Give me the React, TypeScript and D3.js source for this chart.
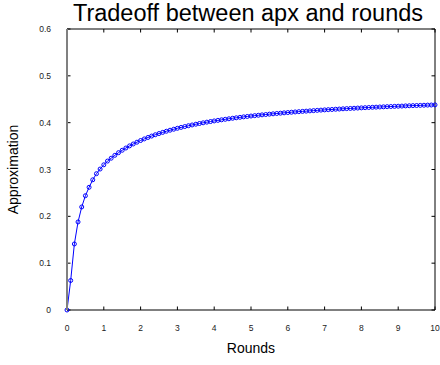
import React from "react";
import * as d3 from "d3";

const roundsX: number[] = Array.from({ length: 101 }, (_, i) => +(i * 0.1).toFixed(1));

const approxY: number[] = [
  0, 0.063, 0.141, 0.188, 0.22, 0.244, 0.262, 0.278, 0.291, 0.301, 0.31,
  0.318, 0.3241, 0.3303, 0.3359, 0.3411, 0.3459, 0.3504, 0.3545, 0.3583, 0.3619,
  0.3653, 0.3684, 0.3714, 0.3742, 0.3768, 0.3793, 0.3817, 0.3839, 0.386, 0.388,
  0.3899, 0.3917, 0.3935, 0.3951, 0.3967, 0.3982, 0.3997, 0.4011, 0.4024, 0.4037,
  0.4049, 0.4061, 0.4072, 0.4083, 0.4094, 0.4104, 0.4114, 0.4124, 0.4133, 0.4142,
  0.415, 0.4158, 0.4167, 0.4174, 0.4182, 0.4189, 0.4196, 0.4203, 0.421, 0.4216,
  0.4223, 0.4229, 0.4235, 0.4241, 0.4246, 0.4252, 0.4257, 0.4263, 0.4268, 0.4273,
  0.4278, 0.4282, 0.4287, 0.4291, 0.4296, 0.43, 0.4304, 0.4308, 0.4312, 0.4316,
  0.432, 0.4324, 0.4328, 0.4331, 0.4335, 0.4338, 0.4342, 0.4345, 0.4348, 0.4351,
  0.4354, 0.4358, 0.4361, 0.4364, 0.4366, 0.4369, 0.4372, 0.4375, 0.4377, 0.438,
];

const xTicks: number[] = [0, 1, 2, 3, 4, 5, 6, 7, 8, 9, 10];
const yTicks: number[] = [0, 0.1, 0.2, 0.3, 0.4, 0.5, 0.6];

const titleText = "Tradeoff between apx and rounds";
const xLabel = "Rounds";
const yLabel = "Approximation";

export default function App() {
  const W = 440;
  const H = 365;
  const left = 67;
  const right = 435;
  const top = 29;
  const bottom = 310;
  const x = d3.scaleLinear().domain([0, 10]).range([left, right]);
  const y = d3.scaleLinear().domain([0, 0.6]).range([bottom, top]);
  const pts = roundsX.map((v, i) => [v, approxY[i]] as [number, number]);
  const line = d3
    .line<[number, number]>()
    .x((d) => x(d[0]))
    .y((d) => y(d[1]));
  const font = "'Liberation Sans', Arial, sans-serif";
  const tl = 3.5;
  return (
    <svg
      width={W}
      height={H}
      style={{ position: "absolute", left: 0, top: 0 }}
      fontFamily={font}
    >
      <rect x={0} y={0} width={W} height={H} fill="#fff" />
      <text x={248} y={21} fontSize={23.5} textAnchor="middle" fill="#000">
        {titleText}
      </text>
      <line x1={left} x2={right} y1={top} y2={top} stroke="#000" strokeWidth={1} />
      <line x1={right} x2={right} y1={top} y2={bottom} stroke="#000" strokeWidth={1} />
      <line x1={left} x2={right} y1={bottom} y2={bottom} stroke="#000" strokeWidth={1} />
      {xTicks.map((t) => (
        <g key={"x" + t}>
          <line x1={x(t)} x2={x(t)} y1={bottom} y2={bottom - tl} stroke="#000" />
          <line x1={x(t)} x2={x(t)} y1={top} y2={top + tl} stroke="#000" />
          <text x={x(t)} y={331} fontSize={8.5} textAnchor="middle" fill="#222">
            {t}
          </text>
        </g>
      ))}
      {yTicks.map((t) => (
        <g key={"y" + t}>
          <line x1={left} x2={left + tl} y1={y(t)} y2={y(t)} stroke="#000" />
          <line x1={right} x2={right - tl} y1={y(t)} y2={y(t)} stroke="#000" />
          <text x={51} y={y(t) + 3} fontSize={8.5} textAnchor="end" fill="#222">
            {t}
          </text>
        </g>
      ))}
      <path d={line(pts) || ""} fill="none" stroke="#0000ff" strokeWidth={1} />
      {pts.map((d, i) => (
        <circle key={i} cx={x(d[0])} cy={y(d[1])} r={2} fill="none" stroke="#0000ff" strokeWidth={1} />
      ))}
      <line x1={left} x2={left} y1={top} y2={bottom} stroke="#808080" strokeWidth={2} />
      <text x={251} y={353} fontSize={14} textAnchor="middle" fill="#000">
        {xLabel}
      </text>
      <text
        transform={`translate(18, ${(top + bottom) / 2}) rotate(-90)`}
        fontSize={14}
        textAnchor="middle"
        fill="#000"
      >
        {yLabel}
      </text>
    </svg>
  );
}
